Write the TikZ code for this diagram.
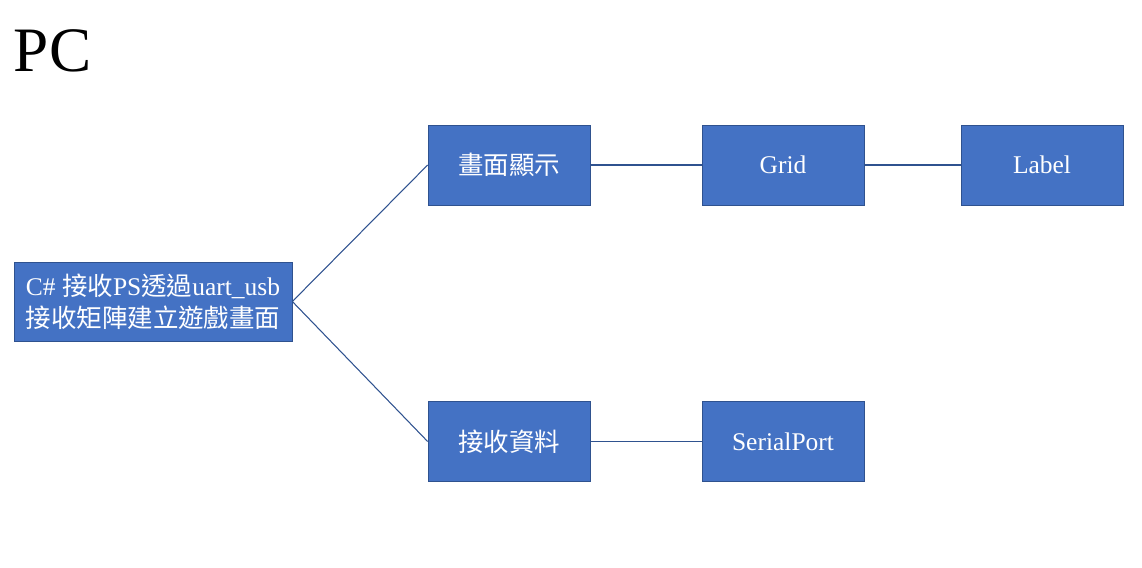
\documentclass[tikz,border=0pt]{standalone}
\usepackage{fontspec}
\setmainfont{Liberation Serif}
\newfontfamily\cjk{Noto Sans CJK TC}
\definecolor{boxblue}{HTML}{4472C4}
\definecolor{edgeblue}{HTML}{2F528F}
\begin{document}
\begin{tikzpicture}
[
  box/.style={draw=edgeblue,fill=boxblue,text=white,minimum width=3.24cm,minimum height=1.6cm,inner sep=0pt,font=\fontsize{14.5}{18}\selectfont},
  rootbox/.style={box,minimum width=5.56cm,minimum height=1.58cm,align=center},
  link/.style={edgeblue,line width=0.6pt}
]
\useasboundingbox (0,0) rectangle (22.84,-11.34);

% title
\node[anchor=base west,inner sep=0pt,font=\fontsize{36}{40}\selectfont] (title) at (0.27,-1.43) {PC};

% boxes
\node[rootbox] (root) at (3.06,-6.03) {C\# {\cjk 接收}PS{\cjk 透過}uart\_usb\\{\cjk 接收矩陣建立遊戲畫面}};
\node[box] (display) at (10.18,-3.30) {{\cjk 畫面顯示}};
\node[box] (grid) at (15.66,-3.30) {Grid};
\node[box] (label) at (20.84,-3.30) {Label};
\node[box] (recv) at (10.18,-8.83) {{\cjk 接收資料}};
\node[box] (serial) at (15.66,-8.83) {SerialPort};

% links
\draw[link] (root.east) -- (display.west);
\draw[link] (root.east) -- (recv.west);
\draw[link] (display) -- (grid);
\draw[link] (grid) -- (label);
\draw[link] (recv) -- (serial);

\end{tikzpicture}
\end{document}
